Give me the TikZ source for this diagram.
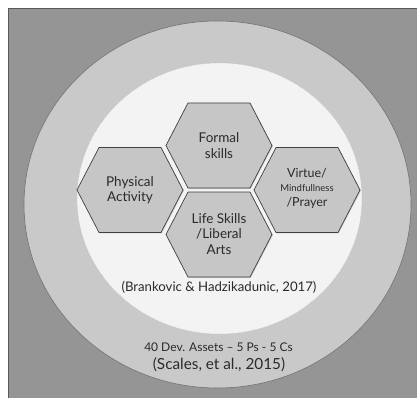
\documentclass[tikz,border=0pt]{standalone}
\usepackage{fontspec}
\setmainfont{Lato}
\usetikzlibrary{shadows}
\definecolor{bgrey}{HTML}{959595}
\definecolor{ring}{HTML}{C9C9C9}
\definecolor{inner}{HTML}{F3F3F3}
\definecolor{hexfill}{HTML}{C6C6C6}
\definecolor{txt}{HTML}{2A2A2A}
\tikzset{
  hexa/.style={fill=hexfill, draw=black!75, line width=0.7pt, line join=round,
    drop shadow={shadow xshift=0.8pt, shadow yshift=-0.8pt, opacity=0.35}},
  hextext/.style={align=center, text=txt, font=\fontsize{13.5}{15.5}\selectfont},
  lbl/.style={align=center, text=txt},
}
\newcommand\hexpath[1]{(#1)++(-53,0) -- ++(22,42.5) -- ++(62,0) -- ++(22,-42.5) -- ++(-22,-42.5) -- ++(-62,0) -- cycle}
\begin{document}
\begin{tikzpicture}[x=1pt,y=-1pt]
\useasboundingbox (0,0) rectangle (417,398);
\clip (0,0) rectangle (417,398);
\fill[white] (0,0) rectangle (417,398);
\draw[fill=bgrey, draw=black!65, line width=0.8pt] (8.7,8.7) rectangle (430,410);
\draw[fill=ring, draw=black!55, line width=0.6pt] (217.5,204.5) ellipse [x radius=193.5, y radius=183.5];
\draw[fill=inner, draw=black!25, densely dotted, line width=0.5pt] (219.5,198.5) ellipse [x radius=142.5, y radius=135.5];
\coordinate (cf) at (219,145.5);
\coordinate (cp) at (130,190);
\coordinate (cv) at (307,190);
\coordinate (cl) at (219,234.5);
\path[hexa] \hexpath{cf};
\path[hexa] \hexpath{cp};
\path[hexa] \hexpath{cv};
\path[hexa] \hexpath{cl};
\node[hextext] (formal) at (cf) {Formal\\skills};
\node[hextext] (phys) at (cp) {Physical\\Activity};
\node[hextext] (virt) at ([yshift=2]cv) {\fontsize{12.5}{14.5}\selectfont Virtue/\\[-1pt]{\fontsize{9.5}{11}\selectfont Mindfullness}\\[-1pt]\fontsize{12.5}{14.5}\selectfont /Prayer};
\node[hextext] (life) at ([yshift=0.5]cl) {Life Skills\\/Liberal\\Arts};
\node[lbl, font=\fontsize{13.2}{15}\selectfont] (brank) at (219,287) {(Brankovic \& Hadzikadunic, 2017)};
\node[lbl, font=\fontsize{12}{14}\selectfont] (dev) at (218.5,347) {40 Dev. Assets – 5 Ps - 5 Cs};
\node[lbl, font=\fontsize{15.3}{17}\selectfont] (scales) at (219,364.5) {(Scales, et al., 2015)};
\end{tikzpicture}
\end{document}
